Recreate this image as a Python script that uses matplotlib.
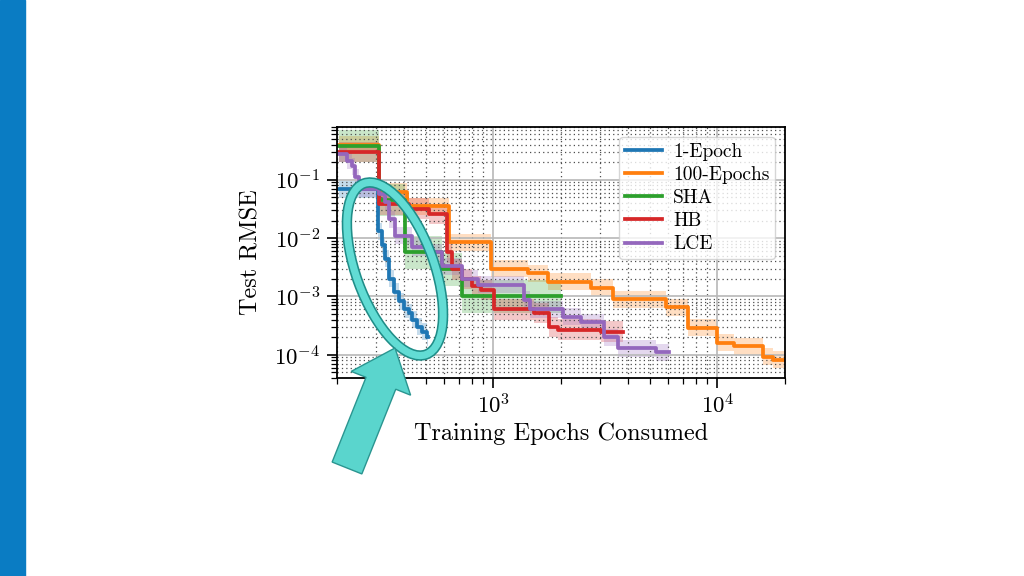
import numpy as np
import matplotlib.pyplot as plt
import matplotlib.patches as mpatches
import matplotlib.transforms as mtransforms
from matplotlib.ticker import NullFormatter

plt.rcParams['font.family'] = ['cmr10', 'DejaVu Serif']
plt.rcParams['mathtext.fontset'] = 'cm'
plt.rcParams['axes.formatter.use_mathtext'] = True

# step curves (epochs consumed vs. test RMSE)
one_epoch_x = [205, 305, 318, 329, 340, 358, 377, 397, 418, 433, 455, 479, 503, 512]
one_epoch_y = [0.068, 0.013, 0.0075, 0.0044, 0.002, 0.0012, 0.00082, 0.0006,
               0.00053, 0.0004, 0.0003, 0.00025, 0.0002, 0.0002]

hundred_x = [205, 307, 410, 631, 980, 1430, 1755, 2730, 3400, 5900, 7360,
             10000, 11800, 16000, 17700, 20000]
hundred_y = [0.40, 0.062, 0.035, 0.0085, 0.003, 0.0025, 0.0018, 0.0014, 0.0009,
             0.00065, 0.00029, 0.00016, 0.00014, 0.000093, 0.000082, 0.000082]

sha_x = [205, 307, 402, 588, 721, 2005]
sha_y = [0.38, 0.045, 0.0057, 0.0029, 0.001, 0.001]

hb_x = [205, 307, 419, 514, 618, 651, 721, 798, 884, 1010, 1521, 1773, 1945, 3020, 3785]
hb_y = [0.30, 0.038, 0.032, 0.026, 0.0057, 0.0029, 0.002, 0.0015, 0.0013, 0.0006,
        0.00052, 0.0003, 0.00027, 0.00025, 0.00025]

lce_x = [205, 222, 234, 242, 250, 307, 329, 340, 364, 433, 530, 588, 721, 855,
         1375, 1450, 2050, 2460, 3110, 3600, 5300, 6060]
lce_y = [0.28, 0.21, 0.17, 0.11, 0.07, 0.057, 0.042, 0.021, 0.011, 0.007, 0.0057,
         0.0033, 0.002, 0.0016, 0.00088, 0.0006, 0.00045, 0.00036, 0.0002, 0.00013,
         0.00011, 0.00011]

labels = ['1-Epoch', '100-Epochs', 'SHA', 'HB', 'LCE']
colors = ['#1f77b4', '#ff7f0e', '#2ca02c', '#d62728', '#9467bd']
band_ratio = [1.4, 1.4, 1.9, 1.5, 1.4]

series = [(one_epoch_x, one_epoch_y), (hundred_x, hundred_y), (sha_x, sha_y),
          (hb_x, hb_y), (lce_x, lce_y)]

fig = plt.figure(figsize=(10.24, 5.76), dpi=100)
ax = fig.add_axes([0.329, 0.3437, 0.4375, 0.4358])

for (x, y), c, r in zip(series, colors, band_ratio):
    y = np.array(y)
    ax.fill_between(x, y / r, y * r, step='post', color=c, alpha=0.25, lw=0)
for (x, y), c, lab in zip(series, colors, labels):
    ax.step(x, y, where='post', color=c, lw=2.7, label=lab)

ax.set_xscale('log')
ax.set_yscale('log')
ax.set_xlim(200, 20000)
ax.set_ylim(4e-5, 0.8)

ax.grid(which='major', color='0.72', lw=1.2, ls='-')
ax.grid(which='minor', color='0.3', lw=0.9, ls=(0, (1, 2.5)))
ax.xaxis.set_minor_formatter(NullFormatter())
ax.yaxis.set_minor_formatter(NullFormatter())
ax.tick_params(which='major', length=7, width=1.2, labelsize=16.5)
ax.tick_params(axis='y', which='major', pad=5)
ax.tick_params(which='minor', length=4, width=0.9)
for s in ax.spines.values():
    s.set_linewidth(1.3)

ax.set_xlabel('Training Epochs Consumed', fontsize=17.5, labelpad=4)
ax.set_ylabel('Test RMSE', fontsize=17.5, labelpad=8)

ax.legend(loc='upper right', fontsize=14, handlelength=1.9, handletextpad=0.55,
          labelspacing=0.27, borderpad=0.3, framealpha=0.8, edgecolor='0.8')

# slide decorations, in image pixel coordinates (y downwards)
px = mtransforms.Affine2D().scale(1 / 100, -1 / 100).translate(0, 5.76) + fig.dpi_scale_trans

fig.add_artist(mpatches.Rectangle((0, 0), 25 / 1024, 1, transform=fig.transFigure,
                                  color='#0a7cc3', zorder=1))

ring_out = mpatches.Ellipse((395, 269), width=182, height=78, angle=70, transform=px,
                            fill=False, edgecolor='#1f8d88', lw=7.5, zorder=10)
ring_in = mpatches.Ellipse((395, 269), width=182, height=78, angle=70, transform=px,
                           fill=False, edgecolor='#62dcd4', lw=5.2, zorder=11)
fig.add_artist(ring_out)
fig.add_artist(ring_in)

arrow = mpatches.FancyArrow(347, 468, 48, -120, width=32, head_width=64,
                            head_length=38, length_includes_head=True, transform=px,
                            facecolor='#5ad5cd', edgecolor='#2a9590', lw=1, zorder=12)
fig.add_artist(arrow)

fig.savefig('out.png', dpi=100)
